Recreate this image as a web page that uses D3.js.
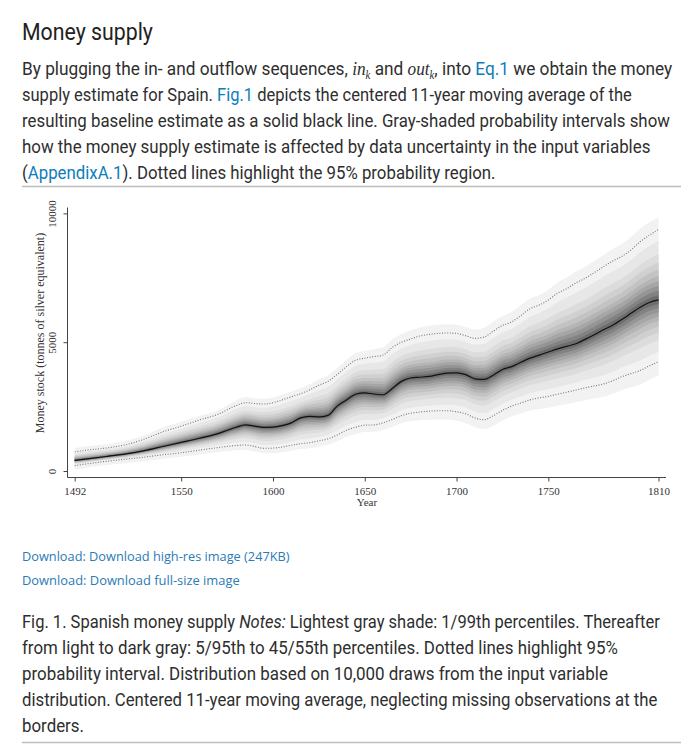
<!DOCTYPE html>
<html><head><meta charset="utf-8">
<script src="https://cdn.jsdelivr.net/npm/d3@7"></script>
<style>
html,body{margin:0;padding:0;background:#fff;}
svg{display:block;}
</style></head><body>
<svg id="page" width="694" height="749"></svg>
<script>
// ---------------- data ----------------
const years = [1492,1500,1510,1520,1530,1540,1550,1560,1570,1580,1585,1590,1595,1600,1605,1610,1615,1620,1625,1630,1635,1640,1645,1650,1655,1660,1665,1670,1675,1680,1685,1690,1695,1700,1705,1710,1715,1720,1725,1730,1735,1740,1745,1750,1755,1760,1765,1770,1775,1780,1785,1790,1795,1800,1805,1810];
// baseline estimate (solid black line), tonnes
const median = [415,480,570,665,790,950,1110,1270,1450,1700,1790,1740,1690,1700,1760,1870,2060,2120,2100,2160,2520,2760,2980,3030,2990,2960,3200,3480,3610,3640,3670,3740,3800,3810,3740,3580,3560,3720,3940,4050,4220,4380,4500,4620,4740,4840,4940,5110,5290,5480,5660,5880,6120,6360,6540,6640];
// 97.5th percentile (upper dotted line)
const p975 = [740,820,900,1020,1240,1520,1740,1980,2200,2540,2650,2620,2600,2650,2760,2880,3000,3150,3330,3480,3750,4050,4300,4380,4440,4500,4800,5000,5120,5240,5300,5340,5360,5340,5250,5150,5200,5430,5650,5790,6030,6300,6440,6640,6900,7080,7300,7480,7700,7930,8150,8330,8580,8900,9150,9380];
// 2.5th percentile (lower dotted line)
const p025 = [210,290,380,460,540,630,710,810,910,990,1010,950,880,890,930,1000,1060,1100,1170,1250,1400,1580,1700,1780,1790,1870,2000,2150,2240,2290,2320,2340,2340,2300,2220,2060,1990,2150,2350,2520,2640,2760,2840,2900,2980,3060,3140,3230,3300,3380,3500,3660,3780,3900,4080,4240];
// 99th / 1st percentiles (edges of the lightest shade)
const p99 = [890,970,1050,1170,1390,1690,1910,2140,2360,2740,2860,2820,2800,2850,2960,3090,3210,3370,3560,3720,4000,4310,4570,4660,4730,4800,5110,5320,5450,5570,5640,5680,5700,5680,5590,5490,5550,5790,6020,6170,6440,6700,6830,7040,7320,7510,7740,7930,8160,8380,8620,8810,9070,9400,9660,9850];
const p01 = [60,140,230,310,390,470,550,640,740,810,820,760,690,690,730,790,850,880,950,1020,1160,1330,1440,1510,1520,1590,1710,1850,1930,1970,1990,2000,1990,1950,1860,1700,1630,1760,1960,2120,2230,2340,2410,2460,2530,2600,2670,2750,2810,2880,2990,3140,3250,3360,3540,3700];
// inner band edges 5/95 ... 45/55, as share of the median-to-dotted distance (read at the right edge)
const bandShare = [0.84,0.65,0.53,0.43,0.34,0.27,0.20,0.13,0.065];
const bandColors = ['#f2f2f2','#e7e7e7','#dcdcdc','#d0d0d0','#c3c3c3','#b5b5b5','#a6a6a6','#959595','#828282','#6d6d6d'];
const xTicks = [1492,1550,1600,1650,1700,1750,1810];
const yTicks = [0,5000,10000];

// ---------------- page texts ----------------
const svg = d3.select('#page');
const TXT = '#2e2e2e', LINK = '#0c7dbb';
const bodyFont = 'Roboto, "Noto Sans", sans-serif';

function addLine(x, y, segs, right, size, family, color) {
  const t = svg.append('text').attr('x', x).attr('y', y)
    .attr('font-family', family).attr('font-size', size).attr('fill', color);
  let shifted = 0;
  segs.forEach(s => {
    const ts = t.append('tspan').text(s.t);
    if (s.link) ts.attr('fill', LINK);
    if (s.it) ts.attr('font-style', 'italic');
    if (s.math) ts.attr('font-family', '"Liberation Serif", serif').attr('font-style', 'italic').attr('font-size', size * 1.0);
    if (s.sub) { ts.attr('font-family', '"Liberation Serif", serif').attr('font-style', 'italic').attr('font-size', size * 0.62).attr('dy', 4); shifted = 4; }
    else if (shifted) { ts.attr('dy', -shifted); shifted = 0; }
  });
  if (right) {
    const w = t.node().getComputedTextLength();
    const k = (right - x) / w;
    t.attr('transform', `translate(${x},0) scale(${k},1) translate(${-x},0)`);
  }
  return t;
}

addLine(22, 40, [{t: 'Money supply'}], 153, 23.5, bodyFont, '#222');

const para = [
  [{t: 'By plugging the in- and outflow sequences, '}, {t: 'in', math: 1}, {t: 'k', sub: 1}, {t: ' and '}, {t: 'out', math: 1}, {t: 'k', sub: 1}, {t: ', into '}, {t: 'Eq.1', link: 1}, {t: ' we obtain the money'}],
  [{t: 'supply estimate for Spain. '}, {t: 'Fig.1', link: 1}, {t: ' depicts the centered 11-year moving average of the'}],
  [{t: 'resulting baseline estimate as a solid black line. Gray-shaded probability intervals show'}],
  [{t: 'how the money supply estimate is affected by data uncertainty in the input variables'}],
  [{t: '('}, {t: 'AppendixA.1', link: 1}, {t: '). Dotted lines highlight the 95% probability region.'}]
];
const paraRight = [673, 632, 670, 651, 496];
para.forEach((segs, i) => addLine(22, 75.5 + i * 25.8, segs, paraRight[i], 19, bodyFont, TXT));

svg.append('line').attr('x1', 22).attr('x2', 681).attr('y1', 186.5).attr('y2', 186.5).attr('stroke', '#bdbdbd').attr('stroke-width', 1.5);

addLine(22, 561.5, [{t: 'Download: Download high-res image (247KB)'}], 290, 13.5, '"Open Sans", sans-serif', '#2b7bb5');
addLine(22, 585.5, [{t: 'Download: Download full-size image'}], 240, 13.5, '"Open Sans", sans-serif', '#2b7bb5');

const caption = [
  [{t: 'Fig. 1. Spanish money supply '}, {t: 'Notes:', it: 1}, {t: ' Lightest gray shade: 1/99th percentiles. Thereafter'}],
  [{t: 'from light to dark gray: 5/95th to 45/55th percentiles. Dotted lines highlight 95%'}],
  [{t: 'probability interval. Distribution based on 10,000 draws from the input variable'}],
  [{t: 'distribution. Centered 11-year moving average, neglecting missing observations at the'}],
  [{t: 'borders.'}]
];
const capRight = [660, 618, 608, 658, 84];
caption.forEach((segs, i) => addLine(22, 628.5 + i * 25.8, segs, capRight[i], 19, bodyFont, TXT));

svg.append('line').attr('x1', 22).attr('x2', 681).attr('y1', 742.5).attr('y2', 742.5).attr('stroke', '#bdbdbd').attr('stroke-width', 1.5);

// ---------------- chart ----------------
const x = d3.scaleLinear().domain([1492, 1810]).range([74.7, 658.5]);
const y = d3.scaleLinear().domain([0, 10000]).range([471, 213.4]);
const rows = years.map((yr, i) => ({yr, med: median[i], lo95: p025[i], hi95: p975[i], lo99: p01[i], hi99: p99[i]}));
const chart = svg.append('g');

// bands, outer (light) to inner (dark)
const bands = [{lo: d => d.lo99, hi: d => d.hi99}].concat(bandShare.map(s => ({
  lo: d => d.med - s * (d.med - d.lo95),
  hi: d => d.med + s * (d.hi95 - d.med)
})));
bands.forEach((b, i) => {
  chart.append('path').datum(rows)
    .attr('fill', bandColors[i])
    .attr('d', d3.area().x(d => x(d.yr)).y0(d => y(b.lo(d))).y1(d => y(b.hi(d))).curve(d3.curveMonotoneX));
});
// dotted 95% lines
[d => d.lo95, d => d.hi95].forEach(f => {
  chart.append('path').datum(rows).attr('fill', 'none').attr('stroke', '#777')
    .attr('stroke-width', 1.1).attr('stroke-dasharray', '1,1.6')
    .attr('d', d3.line().x(d => x(d.yr)).y(d => y(f(d))).curve(d3.curveMonotoneX));
});
// median
chart.append('path').datum(rows).attr('fill', 'none').attr('stroke', '#111').attr('stroke-width', 1.2)
  .attr('d', d3.line().x(d => x(d.yr)).y(d => y(d.med)).curve(d3.curveMonotoneX));

// axes
const axisColor = '#444';
const serif = '"Liberation Serif", "DejaVu Serif", serif';
const gy = svg.append('g').attr('transform', 'translate(67.5,0)')
  .call(d3.axisLeft(y).tickValues(yTicks).tickSize(4).tickSizeOuter(0).tickFormat(d3.format('d')));
gy.select('.domain').remove();
gy.selectAll('.tick line').attr('stroke', axisColor);
gy.selectAll('.tick text').attr('transform', 'rotate(-90)').attr('x', 0).attr('y', -11.5).attr('dy', 0)
  .attr('text-anchor', 'middle').attr('font-family', serif).attr('font-size', 11).attr('fill', '#333');
svg.append('line').attr('x1', 67.5).attr('x2', 67.5).attr('y1', 207.5).attr('y2', 477.5).attr('stroke', axisColor);

const gx = svg.append('g').attr('transform', 'translate(0,477.5)')
  .call(d3.axisBottom(x).tickValues(xTicks).tickSize(4).tickSizeOuter(0).tickFormat(d3.format('d')));
gx.select('.domain').remove();
gx.selectAll('.tick line').attr('stroke', axisColor);
gx.selectAll('.tick text').attr('y', 17).attr('dy', 0).attr('font-family', serif).attr('font-size', 11).attr('fill', '#333');
svg.append('line').attr('x1', 67.5).attr('x2', 666).attr('y1', 477.5).attr('y2', 477.5).attr('stroke', axisColor);

svg.append('text').attr('x', 367).attr('y', 506).attr('text-anchor', 'middle')
  .attr('font-family', serif).attr('font-size', 11).attr('fill', '#333').text('Year');
svg.append('text').attr('transform', 'translate(44,333) rotate(-90)').attr('text-anchor', 'middle')
  .attr('font-family', serif).attr('font-size', 12).attr('fill', '#333').text('Money stock (tonnes of silver equivalent)');
</script>
</body></html>
